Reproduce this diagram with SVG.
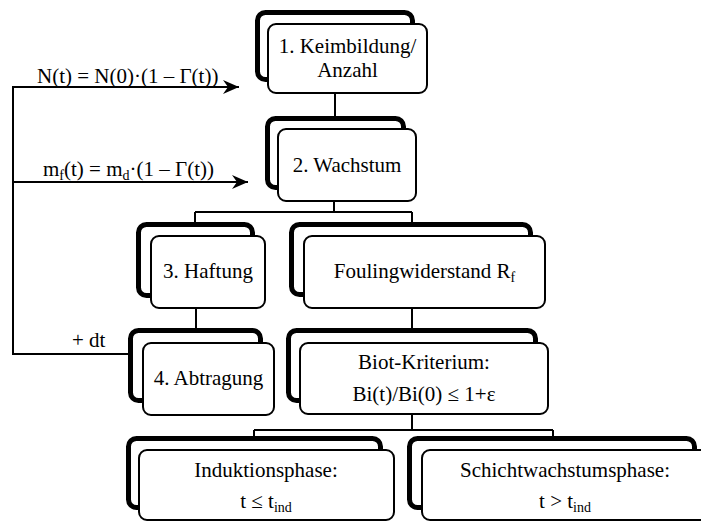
<svg xmlns="http://www.w3.org/2000/svg" width="701" height="522" viewBox="0 0 701 522">
<style>
.back{fill:#fff;stroke:#000;stroke-width:5}
.front{fill:#fff;stroke:#000;stroke-width:2}
.t{font-family:"Liberation Serif","Times New Roman",serif;font-size:21px;fill:#000;text-anchor:middle}
.l{font-family:"Liberation Serif","Times New Roman",serif;font-size:21px;fill:#000}
.c{fill:none;stroke:#000;stroke-width:2}
</style>
<defs>
<marker id="arr" markerWidth="18" markerHeight="14" refX="16" refY="7" orient="auto" markerUnits="userSpaceOnUse">
<path d="M0,0 L16,7 L0,14 L5,7 Z" fill="#000"/>
</marker>
</defs>
<g id="connectors">
<path class="c" d="M335,94 V116"/>
<path class="c" d="M334,202 V212 M195,212 H412 M195,212 V222 M412,212 V222"/>
<path class="c" d="M196,309 V328"/>
<path class="c" d="M412,309 V328"/>
<path class="c" d="M412,415 V430 M254,430 H553 M254,430 V436 M553,430 V436"/>
<path class="c" d="M128,354 H13 V87 H239" marker-end="url(#arr)"/>
<path class="c" d="M13,182 H248" marker-end="url(#arr)"/>
</g>
<g id="labels">
<text class="l" x="37" y="83">N(t) = N(0)·(1 – Γ(t))</text>
<text class="l" x="43" y="176">m<tspan font-size="14" dy="4">f</tspan><tspan dy="-4">(t) = m</tspan><tspan font-size="14" dy="4">d</tspan><tspan dy="-4">·(1 – Γ(t))</tspan></text>
<text class="l" x="72" y="347">+ dt</text>
</g>
<g id="n1">
<rect class="back" x="257.5" y="12.5" width="155" height="67" rx="8"/>
<rect class="front" x="268" y="24" width="159" height="69" rx="8"/>
<text class="t" x="347.5" y="52.5">1. Keimbildung/</text>
<text class="t" x="347.5" y="76.5">Anzahl</text>
</g>
<g id="n2">
<rect class="back" x="267.5" y="118.5" width="136" height="69" rx="8"/>
<rect class="front" x="278" y="129" width="138" height="72" rx="8"/>
<text class="t" x="347" y="172">2. Wachstum</text>
</g>
<g id="n3">
<rect class="back" x="138.5" y="224.5" width="114" height="71" rx="8"/>
<rect class="front" x="151" y="236" width="114" height="72" rx="8"/>
<text class="t" x="208" y="278">3. Haftung</text>
</g>
<g id="n_fouling">
<rect class="back" x="291.5" y="224.5" width="239" height="70" rx="8"/>
<rect class="front" x="304" y="236" width="241" height="72" rx="8"/>
<text class="t" x="424.5" y="278">Foulingwiderstand R<tspan font-size="14" dy="4">f</tspan></text>
</g>
<g id="n4">
<rect class="back" x="130.5" y="330.5" width="130" height="70" rx="8"/>
<rect class="front" x="143" y="343" width="131" height="72" rx="8"/>
<text class="t" x="208.5" y="385">4. Abtragung</text>
</g>
<g id="n_biot">
<rect class="back" x="288.5" y="330.5" width="247" height="70" rx="8"/>
<rect class="front" x="300" y="343" width="248" height="71" rx="8"/>
<text class="t" x="424" y="369">Biot-Kriterium:</text>
<text class="t" x="424" y="401">Bi(t)/Bi(0) ≤ 1+ε</text>
</g>
<g id="n_induktion">
<rect class="back" x="128.5" y="438.5" width="252" height="69" rx="8"/>
<rect class="front" x="139" y="450" width="255" height="70" rx="8"/>
<text class="t" x="266" y="477">Induktionsphase:</text>
<text class="t" x="266" y="508">t ≤ t<tspan font-size="14" dy="4">ind</tspan></text>
</g>
<g id="n_schicht">
<rect class="back" x="409.5" y="438.5" width="285" height="69" rx="8"/>
<rect class="front" x="422" y="450" width="290" height="70" rx="8"/>
<text class="t" x="565" y="477">Schichtwachstumsphase:</text>
<text class="t" x="565" y="508">t &gt; t<tspan font-size="14" dy="4">ind</tspan></text>
</g>
</svg>
